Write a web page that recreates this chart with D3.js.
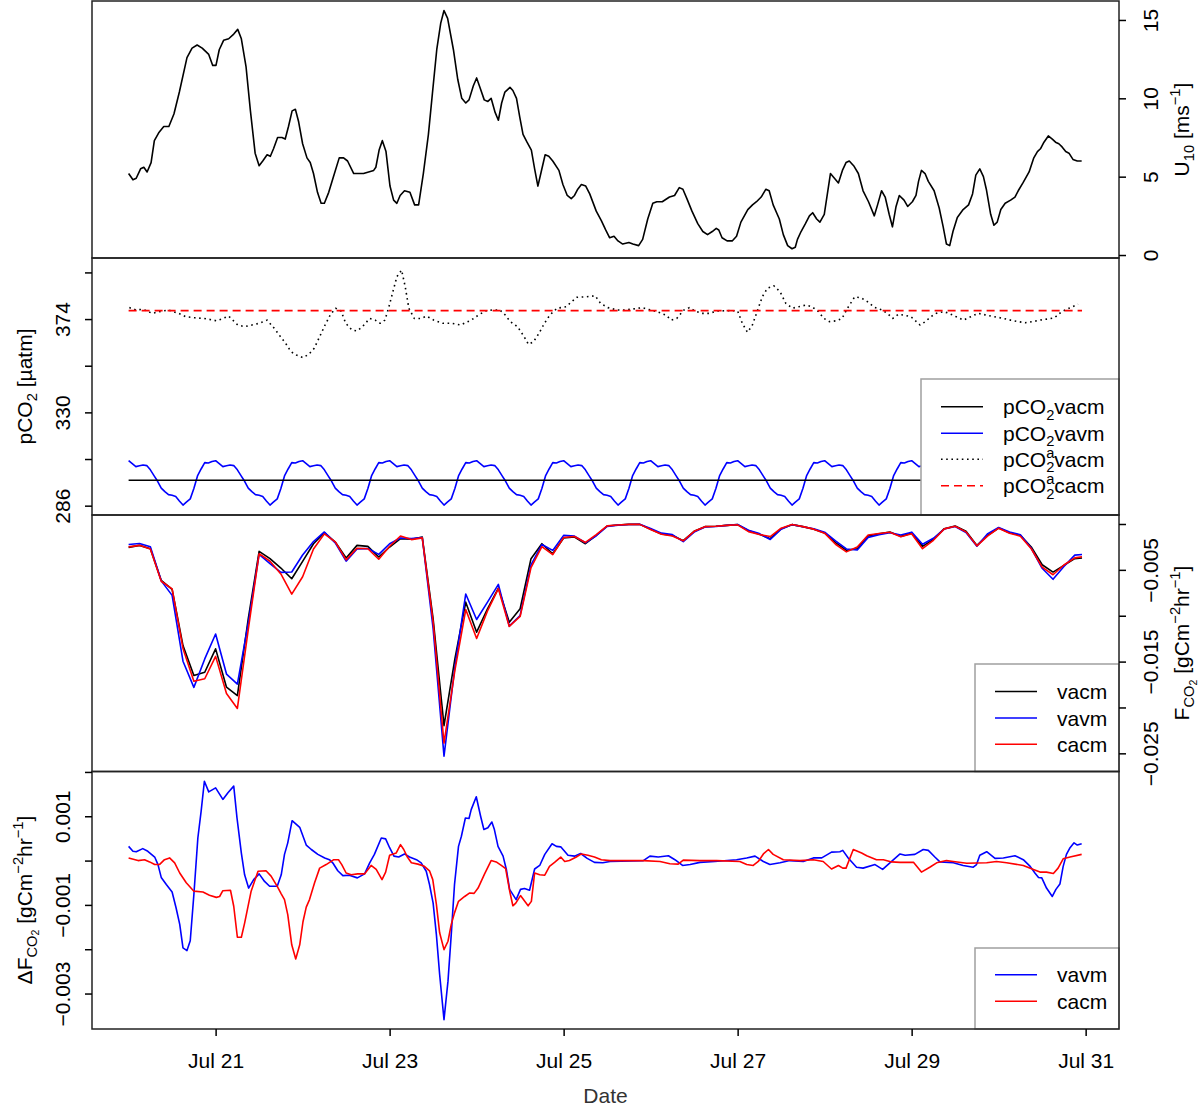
<!DOCTYPE html>
<html>
<head>
<meta charset="utf-8">
<title>Wind, pCO2 and CO2 flux, Jul 20 - 31</title>
<script src="https://cdn.jsdelivr.net/npm/d3@7/dist/d3.min.js"></script>
<style>
  body { margin: 0; background: #fff; }
  svg text { font-family: "Liberation Sans", Arial, Helvetica, sans-serif; fill: #000; }
</style>
</head>
<body>
<svg id="chart" width="1200" height="1112"></svg>
<script>
// all times are hours after Jul 20 00:00

// --- panel 1: wind speed U10 [m/s] ---
var u10Hour = [
  0.0,1.2,2.1,3.3,4.2,5.1,6.2,7.1,8.3,9.7, 11.1,12.5,14.0,16.1,17.5,18.9,20.3,22.1,23.2,24.1,
  25.0,26.2,27.6,29.0,30.1,31.1,32.4,33.6,34.9,36.0, 37.0,38.2,39.1,40.0,41.1,42.3,43.2,44.1,45.1,46.0,
  46.9,48.0,49.2,50.1,51.0,52.1,53.1,54.0,55.2,56.5, 58.1,59.3,60.4,62.1,63.4,64.8,66.2,67.6,68.2,69.1,
  70.0,71.0,72.1,73.1,74.0,74.9,76.1,77.6,78.9,80.0, 81.3,82.7,83.8,85.0,86.1,87.0,88.0,89.6,90.8,91.9,
  93.0,93.9,95.1,96.0,96.9,98.1,99.1,100.0,101.1,102.0, 102.9,103.8,105.2,106.0,107.0,107.9,108.8,109.9,111.1,112.0,
  112.9,113.8,114.9,115.9,117.0,118.7,119.8,121.0,122.1,123.0, 123.9,124.9,126.1,127.2,129.0,130.4,131.6,132.7,133.9,135.0,
  136.3,138.0,139.1,140.7,141.8,143.2,144.6,145.7,147.2,149.2, 150.6,151.9,152.9,154.0,155.4,157.0,158.4,159.7,161.0,162.1,
  162.8,163.7,165.1,166.5,167.7,168.9,170.8,172.1,173.2,174.5, 175.8,176.7,177.8,179.5,180.6,181.8,183.0,183.9,184.5,185.5,
  186.7,187.8,188.7,189.8,190.7,191.9,193.6,194.7,195.8,196.9, 197.9,198.8,200.0,201.3,202.6,204.1,205.7,206.6,207.7,208.7,
  209.8,210.7,211.7,212.6,213.9,214.9,216.2,217.2,217.9,218.7, 219.7,220.6,222.2,223.6,224.7,225.6,226.5,227.4,228.6,230.2,
  231.7,232.8,233.7,234.8,235.8,236.6,237.8,238.7,239.6,240.6, 241.8,243.3,244.5,245.4,246.7,248.4,249.7,250.7,251.6,252.5,
  253.7,254.8,255.7,256.6,257.5,258.5,259.4,260.5,261.7,262.9
];
var u10 = [
  5.2,4.8,4.9,5.5,5.6,5.3,5.9,7.3,7.8,8.2, 8.2,9.0,10.4,12.6,13.2,13.4,13.2,12.8,12.1,12.1,
  13.1,13.7,13.8,14.1,14.4,13.8,12.0,9.2,6.5,5.7, 6.0,6.4,6.3,6.8,7.5,7.5,7.4,8.2,9.2,9.3,
  8.5,7.1,6.2,5.9,5.2,4.0,3.3,3.3,4.0,5.0, 6.2,6.2,6.0,5.2,5.2,5.2,5.3,5.4,5.6,6.7,
  7.3,6.6,4.4,3.5,3.3,3.8,4.1,4.0,3.2,3.2, 5.2,7.7,10.3,13.1,14.8,15.6,15.1,13.1,11.2,10.0,
  9.7,9.9,10.8,11.3,10.7,9.9,9.8,10.0,9.1,8.6, 9.7,10.4,10.7,10.5,10.0,8.8,7.7,7.2,6.7,5.5,
  4.4,5.3,6.4,6.3,6.0,5.4,4.5,3.8,3.6,3.8, 4.2,4.5,4.4,3.9,2.8,2.2,1.6,1.1,1.2,0.9,
  0.7,0.8,0.7,0.6,1.0,2.3,3.3,3.4,3.4,3.7, 3.8,4.3,4.2,3.6,2.8,2.0,1.5,1.3,1.5,1.7,
  1.6,1.1,0.9,0.9,1.2,2.1,2.9,3.2,3.4,3.7, 4.2,4.1,3.2,2.3,1.3,0.6,0.4,0.5,1.0,1.5,
  2.0,2.5,2.7,2.3,2.1,2.6,5.2,4.9,4.6,5.4, 5.9,6.0,5.7,5.2,4.1,3.4,2.5,3.2,4.1,3.7,
  2.6,1.8,3.1,3.8,3.5,3.1,3.4,3.8,4.7,5.4, 5.2,4.7,4.1,3.0,1.8,0.7,0.6,1.5,2.4,2.9,
  3.2,3.9,5.1,5.5,5.0,4.2,2.6,1.9,2.1,2.9, 3.3,3.5,3.7,4.1,4.6,5.3,6.2,6.6,6.8,7.2,
  7.6,7.4,7.2,7.1,6.9,6.6,6.5,6.1,6.0,6.0
];
var u10Ticks = [0, 5, 10, 15];

// --- panel 2: pCO2 [uatm] ---
// hourly seawater pCO2 of the vavm run (same daily cycle every day)
var pco2VavmHour = d3.range(0, 264);
var pco2Vavm = [
  307.2,305.8,304.4,304.8,305.2,304.9,302.9,300.2,297.5,294.3,292.6,291.2,290.9,290.3,288.2,286.3,287.8,289.2,294.1,300.0,303.3,306.3,306.1,306.8,
  307.2,305.8,304.4,304.8,305.2,304.9,302.9,300.2,297.5,294.3,292.6,291.2,290.9,290.3,288.2,286.3,287.8,289.2,294.1,300.0,303.3,306.3,306.1,306.8,
  307.2,305.8,304.4,304.8,305.2,304.9,302.9,300.2,297.5,294.3,292.6,291.2,290.9,290.3,288.2,286.3,287.8,289.2,294.1,300.0,303.3,306.3,306.1,306.8,
  307.2,305.8,304.4,304.8,305.2,304.9,302.9,300.2,297.5,294.3,292.6,291.2,290.9,290.3,288.2,286.3,287.8,289.2,294.1,300.0,303.3,306.3,306.1,306.8,
  307.2,305.8,304.4,304.8,305.2,304.9,302.9,300.2,297.5,294.3,292.6,291.2,290.9,290.3,288.2,286.3,287.8,289.2,294.1,300.0,303.3,306.3,306.1,306.8,
  307.2,305.8,304.4,304.8,305.2,304.9,302.9,300.2,297.5,294.3,292.6,291.2,290.9,290.3,288.2,286.3,287.8,289.2,294.1,300.0,303.3,306.3,306.1,306.8,
  307.2,305.8,304.4,304.8,305.2,304.9,302.9,300.2,297.5,294.3,292.6,291.2,290.9,290.3,288.2,286.3,287.8,289.2,294.1,300.0,303.3,306.3,306.1,306.8,
  307.2,305.8,304.4,304.8,305.2,304.9,302.9,300.2,297.5,294.3,292.6,291.2,290.9,290.3,288.2,286.3,287.8,289.2,294.1,300.0,303.3,306.3,306.1,306.8,
  307.2,305.8,304.4,304.8,305.2,304.9,302.9,300.2,297.5,294.3,292.6,291.2,290.9,290.3,288.2,286.3,287.8,289.2,294.1,300.0,303.3,306.3,306.1,306.8,
  307.2,305.8,304.4,304.8,305.2,304.9,302.9,300.2,297.5,294.3,292.6,291.2,290.9,290.3,288.2,286.3,287.8,289.2,294.1,300.0,303.3,306.3,306.1,306.8,
  307.2,305.8,304.4,304.8,305.2,304.9,302.9,300.2,297.5,294.3,292.6,291.2,290.9,290.3,288.2,286.3,287.8,289.2,294.1,300.0,303.3,306.3,306.1,306.8
];
var pco2FlatHour = [0, 263];
var pco2Vacm = [298, 298];
var pco2AtmCacm = [378, 378];
var pco2AtmHour = [
  0.2,2.0,4.0,6.5,9.4,10.9,13.8,15.8,18.3,20.7, 22.2,24.2,25.6,27.6,30.1,32.0,36.0,38.2,40.2,41.9,
  43.3,44.8,46.3,48.1,49.7,51.2,52.7,54.2,55.7,57.1, 58.6,59.9,61.6,63.0,64.5,66.5,68.0,69.4,70.7,71.7,
  72.9,74.0,75.3,76.3,77.3,78.8,80.7,82.2,84.2,86.7, 89.1,91.6,94.5,96.5,98.4,100.4,102.4,103.9,105.3,107.3,
  109.1,110.3,111.7,113.2,114.7,116.2,118.2,120.7,122.2,123.7, 126.2,128.7,130.2,132.2,134.7,137.2,141.7,146.2,148.2,149.7,
  151.2,153.2,154.7,156.2,158.2,160.2,162.2,166.2,168.0,169.3, 170.7,172.0,173.2,174.8,176.2,178.0,179.7,181.3,183.1,184.8,
  186.8,188.5,190.3,191.8,193.3,195.3,196.8,198.3,200.3,202.1, 203.8,205.8,207.8,209.3,210.8,212.3,213.8,215.8,217.3,218.3,
  219.8,221.3,222.8,224.8,226.3,228.3,230.3,232.3,234.3,237.9, 239.9,241.3,243.3,245.3,247.4,249.4,251.4,253.4,255.4,257.4,
  259.4,261.9
];
var pco2AtmVacm = [
  379.4,378.3,378.6,376.7,377.8,378.3,376.7,375.1,374.6,374.3, 373.9,373.2,374.0,375.4,371.2,370.4,372.0,373.5,369.6,365.7,
  362.6,358.6,357.0,355.8,357.4,360.2,365.7,371.2,376.2,379.1, 377.8,372.0,368.8,368.4,370.4,374.3,373.5,372.0,373.5,379.1,
  386.9,394.0,397.1,389.3,379.1,374.3,374.3,375.4,373.5,372.0, 372.0,371.2,373.5,375.9,377.8,378.3,378.3,375.9,372.8,370.4,
  365.7,362.1,363.3,367.3,372.0,375.9,379.1,379.8,382.2,384.3, 384.5,385.0,381.4,379.4,378.3,378.3,379.4,377.2,375.9,373.5,
  374.3,378.3,379.4,377.8,376.7,376.7,377.8,378.0,377.8,372.0, 367.8,370.9,376.7,384.5,388.5,389.7,386.9,381.4,379.1,379.8,
  380.6,379.8,377.5,374.3,372.8,373.2,374.3,379.1,384.5,384.0, 382.2,379.5,378.3,376.7,374.3,376.2,375.9,375.1,372.8,371.2,
  372.8,375.1,376.7,377.5,376.7,375.1,373.5,375.1,376.7,375.4, 374.8,374.3,373.5,372.8,372.3,372.8,373.5,374.0,374.6,377.5,
  379.1,381.0
];
var pco2Ticks = [286, 308, 330, 352, 374, 396];
var pco2Labelled = [286, 330, 374];

// --- panel 3: CO2 flux, in units of 1e-3 gC m-2 hr-1, 3-hourly ---
var hours = d3.range(0, 262, 3).concat([263]);
var fluxVacm = [
  -2.55,-2.33,-2.69,-6.15,-7.13,-13.25,-16.52,-16.16,-13.61,-17.79,
  -18.70,-10.33,-2.98,-3.78,-4.80,-5.97,-4.08,-2.15,-0.95,-1.97,
  -3.71,-2.33,-2.44,-3.60,-2.51,-1.60,-1.67,-1.42,-10.33,-21.98,
  -14.70,-8.52,-11.79,-9.24,-6.99,-10.70,-9.24,-3.78,-2.15,-3.24,
  -1.53,-1.42,-2.15,-1.24,-0.22,-0.11,-0.04,-0.04,-0.58,-1.09,
  -1.24,-1.82,-0.80,-0.29,-0.25,-0.15,-0.07,-0.73,-1.13,-1.60,
  -0.51,-0.07,-0.29,-0.58,-0.98,-2.04,-2.87,-2.69,-1.31,-1.06,
  -0.87,-1.35,-1.02,-2.44,-1.67,-0.51,-0.22,-0.80,-2.33,-1.24,
  -0.44,-0.95,-1.24,-2.51,-4.44,-5.24,-4.51,-3.78,-3.71
];
var fluxVavm = [
  -2.23,-2.13,-2.49,-6.20,-7.78,-14.96,-17.81,-14.71,-11.99,-16.36,
  -17.45,-10.80,-3.31,-4.32,-5.27,-5.23,-3.38,-1.92,-0.87,-2.06,
  -4.05,-2.71,-2.68,-3.31,-2.15,-1.52,-1.59,-1.47,-11.40,-25.31,
  -15.58,-7.63,-10.41,-8.52,-6.59,-11.13,-9.97,-4.45,-2.24,-2.88,
  -1.24,-1.32,-2.05,-1.28,-0.26,-0.12,-0.05,-0.04,-0.49,-1.00,
  -1.16,-1.92,-0.88,-0.32,-0.27,-0.15,-0.05,-0.67,-1.05,-1.69,
  -0.57,-0.07,-0.31,-0.52,-0.89,-1.85,-2.72,-2.84,-1.46,-1.17,
  -0.95,-1.20,-0.89,-2.20,-1.56,-0.55,-0.28,-0.92,-2.42,-1.05,
  -0.39,-0.87,-1.18,-2.65,-4.83,-6.03,-4.64,-3.39,-3.33
];
var fluxCacm = [
  -2.49,-2.33,-2.73,-6.24,-7.08,-13.57,-17.14,-16.87,-14.43,-18.47,
  -20.11,-11.53,-3.24,-4.06,-5.45,-7.64,-5.75,-2.73,-1.08,-1.95,
  -3.91,-2.64,-2.70,-3.84,-2.43,-1.31,-1.70,-1.51,-10.68,-23.88,
  -15.96,-9.33,-12.48,-9.47,-7.04,-11.17,-10.08,-4.75,-2.47,-3.33,
  -1.48,-1.37,-2.01,-1.16,-0.21,-0.11,-0.04,-0.04,-0.59,-1.11,
  -1.31,-1.83,-0.80,-0.29,-0.25,-0.15,-0.09,-0.83,-1.15,-1.37,
  -0.46,-0.06,-0.29,-0.56,-1.00,-2.21,-3.04,-2.50,-1.20,-1.04,
  -0.90,-1.39,-1.06,-2.69,-1.78,-0.53,-0.24,-0.86,-2.38,-1.29,
  -0.46,-1.00,-1.33,-2.70,-4.70,-5.53,-4.47,-3.69,-3.57
];
var fluxTicks = [0, -5, -10, -15, -20, -25];
var fluxLabelled = [-5, -15, -25];

// --- panel 4: flux difference, units of 1e-3 gC m-2 hr-1 ---
var dVavmHour = [
  0,1.2,2.1,3.9,5.3,7.2,8.1,9.0,10.4,12.0, 13.1,14.1,15.0,16.1,17.0,18.0,19.1,20.0,20.9,22.1,
  24.0,26.0,27.4,29.0,29.9,31.1,32.0,33.1,34.5,36.0, 37.5,38.9,41.0,42.1,43.0,43.9,45.1,47.2,49.0,50.4,
  52.2,54.1,55.4,56.3,57.7,59.1,60.9,63.1,65.1,66.5, 67.8,69.7,70.9,72.0,73.2,74.5,76.1,77.5,79.4,80.7,
  82.1,83.0,84.0,84.9,85.8,87.0,88.1,89.0,89.9,91.0, 91.8,92.9,93.9,94.5,95.9,97.1,98.0,99.1,100.2,100.9,
  101.9,103.3,104.2,105.1,106.9,108.1,109.2,110.6,112.0,113.4, 114.8,116.8,118.0,119.2,121.2,123.0,124.7,126.5,128.5,130.8,
  132.8,142.0,143.8,146.1,148.9,150.7,152.8,154.9,157.6,161.7, 167.7,170.5,172.8,175.1,176.9,179.7,182.4,186.1,188.9,191.2,
  193.9,196.2,197.0,198.5,200.8,202.6,205.9,208.0,210.0,212.8, 214.2,216.9,219.2,220.6,222.4,223.8,227.5,230.2,233.0,233.9,
  234.8,236.7,239.0,241.3,244.5,246.8,248.7,250.0,251.0,251.9, 253.2,254.8,255.8,256.9,257.8,258.7,259.7,260.8,261.7,262.9
];
var dFluxVavm = [
  0.32,0.21,0.20,0.27,0.21,0.08,-0.09,-0.38,-0.54,-0.71, -1.07,-1.44,-1.97,-2.03,-1.81,-0.77,0.51,1.11,1.79,1.55,
  1.64,1.38,1.53,1.68,0.96,0.17,-0.32,-0.62,-0.43,-0.30, -0.47,-0.58,-0.58,-0.32,0.14,0.40,0.90,0.75,0.35,0.25,
  0.14,0.06,0.02,-0.05,-0.23,-0.34,-0.33,-0.39,-0.30,-0.05, 0.14,0.51,0.49,0.29,0.10,0.08,0.15,0.08,0.02,-0.05,
  -0.24,-0.54,-0.96,-1.67,-2.57,-3.59,-2.72,-1.67,-0.54,0.32, 0.55,0.96,0.95,1.15,1.44,1.00,0.70,0.74,0.87,0.70,
  0.32,0.10,-0.20,-0.65,-0.88,-0.65,-0.63,-0.67,-0.19,-0.11, 0.14,0.38,0.32,0.31,0.12,0.10,0.16,0.05,-0.04,-0.05,
  -0.02,0,0.10,0.08,0.11,0.02,-0.11,-0.09,-0.04,-0.02, 0.02,0.06,0.10,-0.02,-0.09,-0.05,0,-0.02,0.06,0.06,
  0.19,0.20,0.23,0.06,-0.15,-0.17,-0.09,-0.20,-0.05,0.15, 0.12,0.14,0.25,0.23,0.08,-0.03,-0.05,-0.11,-0.15,-0.09,
  0.12,0.20,0.05,0.06,0.11,0.02,-0.13,-0.28,-0.38,-0.39, -0.62,-0.81,-0.65,-0.53,-0.13,0.14,0.29,0.40,0.35,0.38
];
var dCacmHour = [
  0,2.6,4.4,5.8,7.2,8.5,9.9,11.3,12.7,14.1, 15.9,18.0,20.5,22.3,24.2,25.1,26.0,28.1,29.0,30.0,
  31.1,32.0,33.8,35.7,37.9,39.3,41.0,42.1,43.0,43.9, 45.0,46.1,47.2,48.1,49.0,49.9,51.3,52.7,54.5,56.6,
  57.9,58.8,60.0,61.4,63.2,65.1,66.9,68.3,69.9,70.9, 72.0,73.8,75.0,75.9,76.9,78.0,79.8,81.6,83.0,83.9,
  84.9,85.8,87.0,88.1,89.0,89.9,91.0,92.7,94.1,95.3, 96.4,98.2,100.0,101.4,102.8,104.0,105.1,106.0,106.8,108.1,
  110.2,111.1,112.0,113.4,114.8,116.1,117.5,119.2,120.3,121.6, 123.5,124.9,126.7,128.5,130.4,132.8,142.0,146.6,149.3,151.6,
  153.0,157.6,162.2,168.6,170.5,172.3,173.7,175.1,176.5,177.8, 180.6,185.2,188.9,191.6,193.9,195.8,197.0,197.9,199.9,202.2,
  203.6,206.3,208.2,210.5,212.8,216.5,218.7,221.0,222.9,225.6, 227.5,231.2,236.7,239.4,242.2,246.8,249.6,251.4,253.2,255.1,
  256.4,257.8,259.7,262.9
];
var dFluxCacm = [
  0.06,0,0.02,-0.03,-0.09,-0.09,0.02,0.06,-0.05,-0.28, -0.50,-0.69,-0.71,-0.78,-0.83,-0.81,-0.68,-0.67,-1.03,-1.73,
  -1.73,-1.41,-0.69,-0.24,-0.23,-0.35,-0.58,-0.75,-0.88,-1.22, -1.90,-2.22,-1.90,-1.38,-1.05,-0.88,-0.50,-0.17,-0.09,0.02,
  0.02,-0.09,-0.28,-0.32,-0.30,-0.30,-0.11,-0.20,-0.43,-0.26, 0.12,0.17,0.36,0.25,0.08,-0.05,-0.08,-0.13,-0.23,-0.43,
  -0.99,-1.63,-2.01,-1.82,-1.44,-1.18,-0.92,-0.81,-0.73,-0.74, -0.62,-0.30,0,-0.03,-0.11,-0.18,-0.68,-1.02,-0.96,-0.79,
  -1.02,-0.92,-0.28,-0.32,-0.33,-0.13,-0.04,0.08,-0.02,0, 0.08,0.15,0.12,0.08,0.02,0,0,-0.02,-0.07,-0.08,
  0.01,0,0,-0.02,-0.09,-0.11,-0.02,0.15,0.25,0.14, 0.02,0,0.02,-0.02,-0.19,-0.11,-0.17,-0.17,0.25,0.17,
  0.11,0.02,0.02,-0.03,-0.04,-0.04,-0.26,-0.15,-0.05,0, -0.02,-0.06,-0.05,-0.02,-0.05,-0.11,-0.20,-0.26,-0.26,-0.29,
  -0.17,0.04,0.08,0.14
];
var dFluxTicks = [2, 1, 0, -1, -2, -3];
var dFluxLabelled = [1, -1, -3];

// date axis
var dateTickHours = [24, 72, 120, 168, 216, 264];
var dateTickLabels = ["Jul 21", "Jul 23", "Jul 25", "Jul 27", "Jul 29", "Jul 31"];

// ---------------- layout ----------------
var FS = 21;
var left = 92, right = 1119;
var svg = d3.select("#chart");

var x = d3.scaleLinear().domain([-10.1, 273.2]).range([left, right]);

var yWind = d3.scaleLinear().domain([-0.19, 16.21]).range([258, 1]);
var yPco2 = d3.scaleLinear().domain([281.6, 402.8]).range([515, 258]);
var yFlux = d3.scaleLinear().domain([-26.98, 0.98]).range([771.5, 515]);
var yDiff = d3.scaleLinear().domain([-3.8, 2.01]).range([1029, 771.5]);
var panelScales = [yWind, yPco2, yFlux, yDiff];

var milli = d3.format(".3f");

function pairs(xs, ys) {
  return xs.map(function(h, i) { return [h, ys[i]]; });
}

function drawLine(y, xs, ys, color, dash) {
  var line = d3.line()
    .x(function(d) { return x(d[0]); })
    .y(function(d) { return y(d[1]); });
  svg.append("path")
    .datum(pairs(xs, ys))
    .attr("fill", "none")
    .attr("stroke", color)
    .attr("stroke-width", 1.6)
    .attr("stroke-linejoin", "round")
    .attr("stroke-dasharray", dash || null)
    .attr("d", line);
}

// text with sub/superscripts. level: 1 sub, 2 sub of sub, -1 sup
function rich(text, parts) {
  var shift = 0, prev = null;
  parts.forEach(function(p) {
    if (typeof p === "string") p = {t: p};
    var level = p.level || 0;
    var size = level === 0 ? FS : (level === 2 ? FS * 0.5 : FS * 0.7);
    var off = level === 1 ? FS * 0.26 : level === 2 ? FS * 0.36 : level === -1 ? -FS * 0.42 : 0;
    var ts = text.append("tspan").attr("font-size", size).attr("dy", off - shift).text(p.t);
    if (p.stack && prev) ts.attr("dx", -prev.node().getComputedTextLength());
    shift = off;
    prev = ts;
  });
  return text;
}

function sideAxis(y, side, ticks, labelled, fmt) {
  var axis = (side === "left" ? d3.axisLeft(y) : d3.axisRight(y))
    .tickValues(ticks)
    .tickSize(7)
    .tickFormat(function(v) { return labelled.indexOf(v) >= 0 ? fmt(v) : ""; });
  var g = svg.append("g")
    .attr("transform", "translate(" + (side === "left" ? left : right) + ",0)")
    .call(axis);
  g.select(".domain").remove();
  g.selectAll(".tick line").attr("stroke", "#000").attr("stroke-width", 1.5);
  g.selectAll(".tick text")
    .attr("x", null).attr("dy", null)
    .attr("font-size", FS)
    .attr("text-anchor", "middle")
    .attr("transform", "translate(" + (side === "left" ? -22 : 38.5) + ",0) rotate(-90)");
}

function legend(box, rowX, items) {
  svg.append("rect")
    .attr("x", box[0]).attr("y", box[1])
    .attr("width", box[2] - box[0]).attr("height", box[3] - box[1])
    .attr("fill", "#fff").attr("stroke", "#a0a0a0").attr("stroke-width", 1.5);
  items.forEach(function(it) {
    svg.append("line")
      .attr("x1", rowX[0]).attr("x2", rowX[1]).attr("y1", it.y).attr("y2", it.y)
      .attr("stroke", it.color).attr("stroke-width", 1.6)
      .attr("stroke-dasharray", it.dash || null);
    rich(svg.append("text").attr("x", rowX[2]).attr("y", it.y + 7.5).attr("font-size", FS), it.label);
  });
}

// ---- panel 1 ----
drawLine(yWind, u10Hour, u10, "#000");

// ---- panel 2 ----
drawLine(yPco2, pco2VavmHour, pco2Vavm, "#0000ff");
drawLine(yPco2, pco2FlatHour, pco2Vacm, "#000");
drawLine(yPco2, pco2AtmHour, pco2AtmVacm, "#000", "1.6,3.6");
drawLine(yPco2, pco2FlatHour, pco2AtmCacm, "#ff0000", "8,5");

// ---- panel 3 ----
drawLine(yFlux, hours, fluxVacm, "#000");
drawLine(yFlux, hours, fluxVavm, "#0000ff");
drawLine(yFlux, hours, fluxCacm, "#ff0000");

// ---- panel 4 ----
drawLine(yDiff, dVavmHour, dFluxVavm, "#0000ff");
drawLine(yDiff, dCacmHour, dFluxCacm, "#ff0000");

// legends
legend([921, 379, 1119, 515], [941, 983, 1003], [
  {y: 406.7, color: "#000", label: ["pCO", {t: "2", level: 1}, "vacm"]},
  {y: 433.3, color: "#0000ff", label: ["pCO", {t: "2", level: 1}, "vavm"]},
  {y: 459.3, color: "#000", dash: "1.6,3.6", label: ["pCO", {t: "2", level: 1}, {t: "a", level: -1, stack: true}, "vacm"]},
  {y: 485.7, color: "#ff0000", dash: "8,5", label: ["pCO", {t: "2", level: 1}, {t: "a", level: -1, stack: true}, "cacm"]}
]);
legend([975, 664, 1119, 771.5], [995, 1037, 1057], [
  {y: 691.5, color: "#000", label: ["vacm"]},
  {y: 718, color: "#0000ff", label: ["vavm"]},
  {y: 744.3, color: "#ff0000", label: ["cacm"]}
]);
legend([975, 948, 1119, 1029], [995, 1037, 1057], [
  {y: 974.7, color: "#0000ff", label: ["vavm"]},
  {y: 1001.3, color: "#ff0000", label: ["cacm"]}
]);

// panel frames
panelScales.forEach(function(y) {
  var r = y.range();
  svg.append("rect")
    .attr("x", left).attr("y", r[1])
    .attr("width", right - left).attr("height", r[0] - r[1])
    .attr("fill", "none").attr("stroke", "#222").attr("stroke-width", 1.5);
});

// axes
sideAxis(yWind, "right", u10Ticks, u10Ticks, String);
sideAxis(yPco2, "left", pco2Ticks, pco2Labelled, String);
sideAxis(yFlux, "right", fluxTicks, fluxLabelled, function(v) { return milli(v / 1000); });
sideAxis(yDiff, "left", dFluxTicks, dFluxLabelled, function(v) { return milli(v / 1000); });

var xAxis = svg.append("g")
  .attr("transform", "translate(0,1029)")
  .call(d3.axisBottom(x).tickValues(dateTickHours).tickSize(7)
    .tickFormat(function(d, i) { return dateTickLabels[i]; }));
xAxis.select(".domain").remove();
xAxis.selectAll(".tick line").attr("stroke", "#000").attr("stroke-width", 1.5);
xAxis.selectAll(".tick text").attr("y", 38.7).attr("dy", null).attr("font-size", FS);

// axis titles
rich(svg.append("text").attr("font-size", FS).attr("text-anchor", "middle")
  .attr("transform", "translate(1189,129.5) rotate(-90)"),
  ["U", {t: "10", level: 1}, " [ms", {t: "\u22121", level: -1}, "]"]);
rich(svg.append("text").attr("font-size", FS).attr("text-anchor", "middle")
  .attr("transform", "translate(31.5,386.5) rotate(-90)"),
  ["pCO", {t: "2", level: 1}, " [\u00b5atm]"]);
rich(svg.append("text").attr("font-size", FS).attr("text-anchor", "middle")
  .attr("transform", "translate(1189,643) rotate(-90)"),
  ["F", {t: "CO", level: 1}, {t: "2", level: 2}, " [gCm", {t: "\u22122", level: -1}, "hr", {t: "\u22121", level: -1}, "]"]);
rich(svg.append("text").attr("font-size", FS).attr("text-anchor", "middle")
  .attr("transform", "translate(31.5,900) rotate(-90)"),
  ["\u0394F", {t: "CO", level: 1}, {t: "2", level: 2}, " [gCm", {t: "\u22122", level: -1}, "hr", {t: "\u22121", level: -1}, "]"]);

svg.append("text")
  .attr("x", (left + right) / 2).attr("y", 1103)
  .attr("text-anchor", "middle").attr("font-size", FS).style("fill", "#333")
  .text("Date");
</script>
</body>
</html>
